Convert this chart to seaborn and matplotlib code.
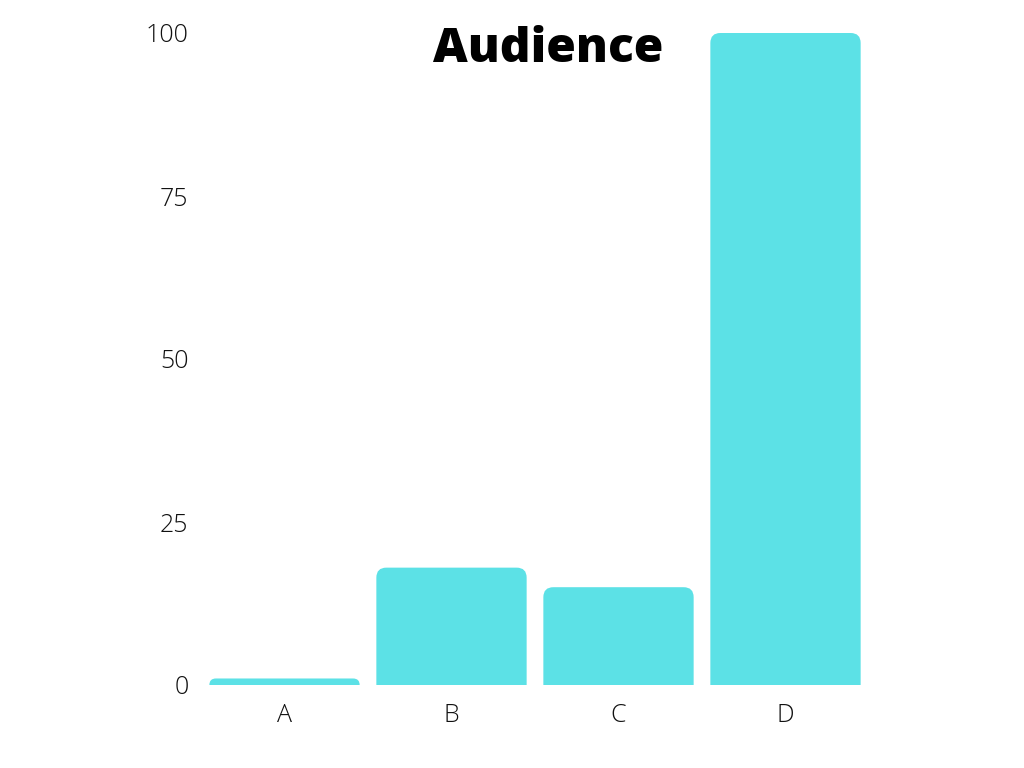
import matplotlib
matplotlib.use("Agg")
import matplotlib.pyplot as plt
from matplotlib.patches import PathPatch
from matplotlib.path import Path
import seaborn as sns
import pandas as pd

categories = ["A", "B", "C", "D"]
audience = [1, 18, 15, 100]
y_ticks = [0, 25, 50, 75, 100]

bar_color = "#5CE1E6"

sns.set_theme(style="white")
plt.rcParams["font.family"] = ["Open Sans", "DejaVu Sans"]

df = pd.DataFrame({"category": categories, "audience": audience})

fig = plt.figure(figsize=(10.24, 7.68), dpi=100)
ax = fig.add_axes([201 / 1024, 83 / 768, 668 / 1024, 652 / 768])

sns.barplot(data=df, x="category", y="audience", color=bar_color,
            width=0.9, saturation=1, ax=ax)
ax.set_xlim(-0.5, 3.5)
ax.set_ylim(0, 100)

# swap the square bars for bars with rounded top corners
px_x = 668 / 4.0      # pixels per x unit
px_y = 652 / 100.0    # pixels per y unit
for bar in list(ax.patches):
    x, y = bar.get_x(), bar.get_y()
    w, h = bar.get_width(), bar.get_height()
    bar.set_visible(False)
    r_px = min(10, h * px_y)
    rx, ry = r_px / px_x, r_px / px_y
    top = y + h
    verts = [(x, y), (x + w, y), (x + w, top - ry),
             (x + w, top), (x + w - rx, top),
             (x + rx, top),
             (x, top), (x, top - ry),
             (x, y)]
    codes = [Path.MOVETO, Path.LINETO, Path.LINETO,
             Path.CURVE3, Path.CURVE3,
             Path.LINETO,
             Path.CURVE3, Path.CURVE3,
             Path.CLOSEPOLY]
    ax.add_patch(PathPatch(Path(verts, codes), facecolor=bar_color,
                           edgecolor="none"))

ax.set_yticks(y_ticks)
ax.set_xlabel("")
ax.set_ylabel("")
sns.despine(ax=ax, left=True, bottom=True)
ax.tick_params(axis="both", length=0, labelsize=18, colors="#111111")
ax.tick_params(axis="y", pad=9)
ax.tick_params(axis="x", pad=13)
for lab in ax.get_xticklabels() + ax.get_yticklabels():
    lab.set_fontweight("light")

fig.text(548 / 1024, 718 / 768, "Audience", ha="center", va="center",
         fontsize=34.5, fontweight="heavy", color="black")

fig.savefig("out.png", dpi=100, facecolor="white")
